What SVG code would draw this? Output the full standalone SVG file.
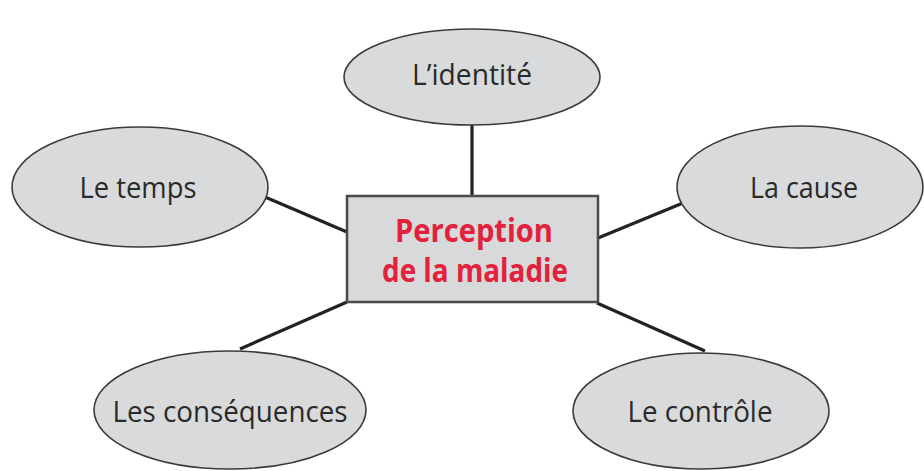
<svg xmlns="http://www.w3.org/2000/svg" width="924" height="471" viewBox="0 0 924 471">
<style>
.node ellipse{fill:#d9dadc;stroke:#3a3a3a;stroke-width:1.6}
.node text{font-family:"Open Sans","Noto Sans","DejaVu Sans",sans-serif;font-size:29px;fill:#2a2a2a;text-anchor:middle}
#center rect{fill:#d8d9db;stroke:#4a4a4a;stroke-width:2.5}
#center text{font-family:"Open Sans","Noto Sans",sans-serif;font-size:32px;font-weight:bold;fill:#e2223c;text-anchor:middle}
#connectors line{stroke:#222;stroke-width:3.2}
</style>
<rect width="924" height="471" fill="#fff"/>
<g id="connectors">
<line x1="472" y1="124" x2="472" y2="196"/>
<line x1="265" y1="197" x2="347" y2="232"/>
<line x1="598" y1="238" x2="683" y2="203"/>
<line x1="347" y1="302" x2="240" y2="349"/>
<line x1="597" y1="303" x2="705" y2="351"/>
</g>
<g id="center">
<rect x="347" y="196" width="251" height="106"/>
<text x="474" y="242" textLength="158" lengthAdjust="spacingAndGlyphs">Perception</text>
<text x="475" y="282" textLength="186" lengthAdjust="spacingAndGlyphs">de la maladie</text>
</g>
<g id="identite" class="node">
<ellipse cx="472" cy="77" rx="128" ry="48"/>
<text x="472" y="85" textLength="120" lengthAdjust="spacingAndGlyphs">L’identité</text>
</g>
<g id="temps" class="node">
<ellipse cx="140" cy="187" rx="128" ry="60"/>
<text x="138" y="198" textLength="117" lengthAdjust="spacingAndGlyphs">Le temps</text>
</g>
<g id="cause" class="node">
<ellipse cx="800" cy="187" rx="123" ry="61"/>
<text x="804" y="198" textLength="108" lengthAdjust="spacingAndGlyphs">La cause</text>
</g>
<g id="consequences" class="node">
<ellipse cx="230" cy="410" rx="136" ry="59"/>
<text x="230" y="422" textLength="235" lengthAdjust="spacingAndGlyphs">Les conséquences</text>
</g>
<g id="controle" class="node">
<ellipse cx="701" cy="411" rx="128" ry="58"/>
<text x="700" y="422" textLength="145" lengthAdjust="spacingAndGlyphs">Le contrôle</text>
</g>
</svg>
